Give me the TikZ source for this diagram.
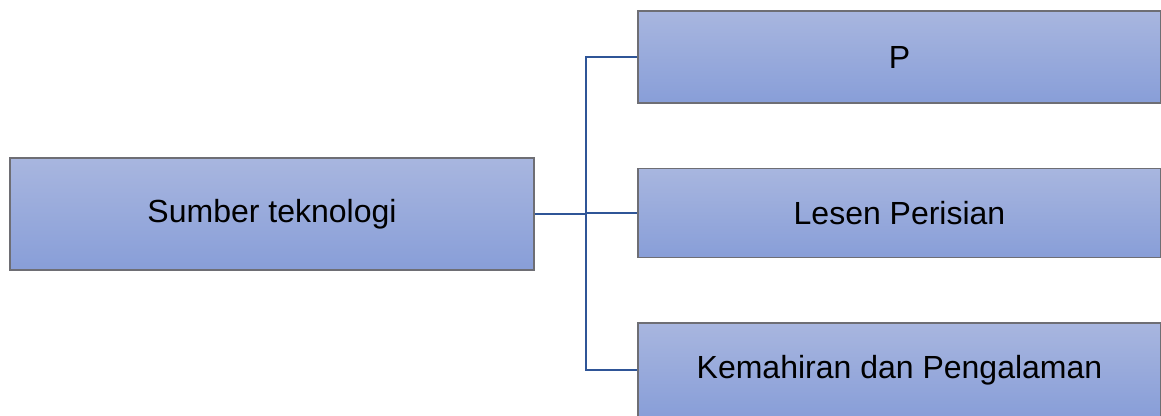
\documentclass[tikz,border=0pt]{standalone}
\usepackage{fontspec}
\setmainfont{Liberation Sans}
\usetikzlibrary{calc}
\definecolor{boxtop}{RGB}{168,182,223}
\definecolor{boxbot}{RGB}{136,158,216}
\definecolor{boxedge}{RGB}{110,110,116}
\definecolor{bleulien}{RGB}{47,85,151}
\tikzset{
  boite/.style={draw=boxedge,line width=0.75pt,top color=boxtop,bottom color=boxbot,
    inner sep=0pt,font=\fontsize{16}{19}\selectfont},
  lien/.style={draw=bleulien,line width=1.25pt}
}
\begin{document}
\begin{tikzpicture}[x=0.5pt,y=-0.5pt]
	%\draw[help lines] (0,0) grid[step=100] (1161,416);
	\useasboundingbox (0,0) rectangle (1161,416);
	%SOURCE
	\node[boite,minimum width=262pt,minimum height=56pt] (S) at (272,214) {Sumber teknologi};
	%BRANCHES
	\node[boite,minimum width=261.5pt,minimum height=46pt] (P) at (899.5,57) {P};
	\node[boite,minimum width=261.5pt,minimum height=44.5pt] (L) at (899.5,213) {Lesen Perisian};
	\node[boite,minimum width=261.5pt,minimum height=47pt] (K) at (899.5,370) {Kemahiran dan Pengalaman};
	%LIENS
	\coordinate (J) at (586,213);
	\draw[lien] (S.east) -- (S.east -| J);
	\draw[lien] (P.west) -| (J) |- (K.west);
	\draw[lien] (J) -- (L.west);
\end{tikzpicture}
\end{document}
